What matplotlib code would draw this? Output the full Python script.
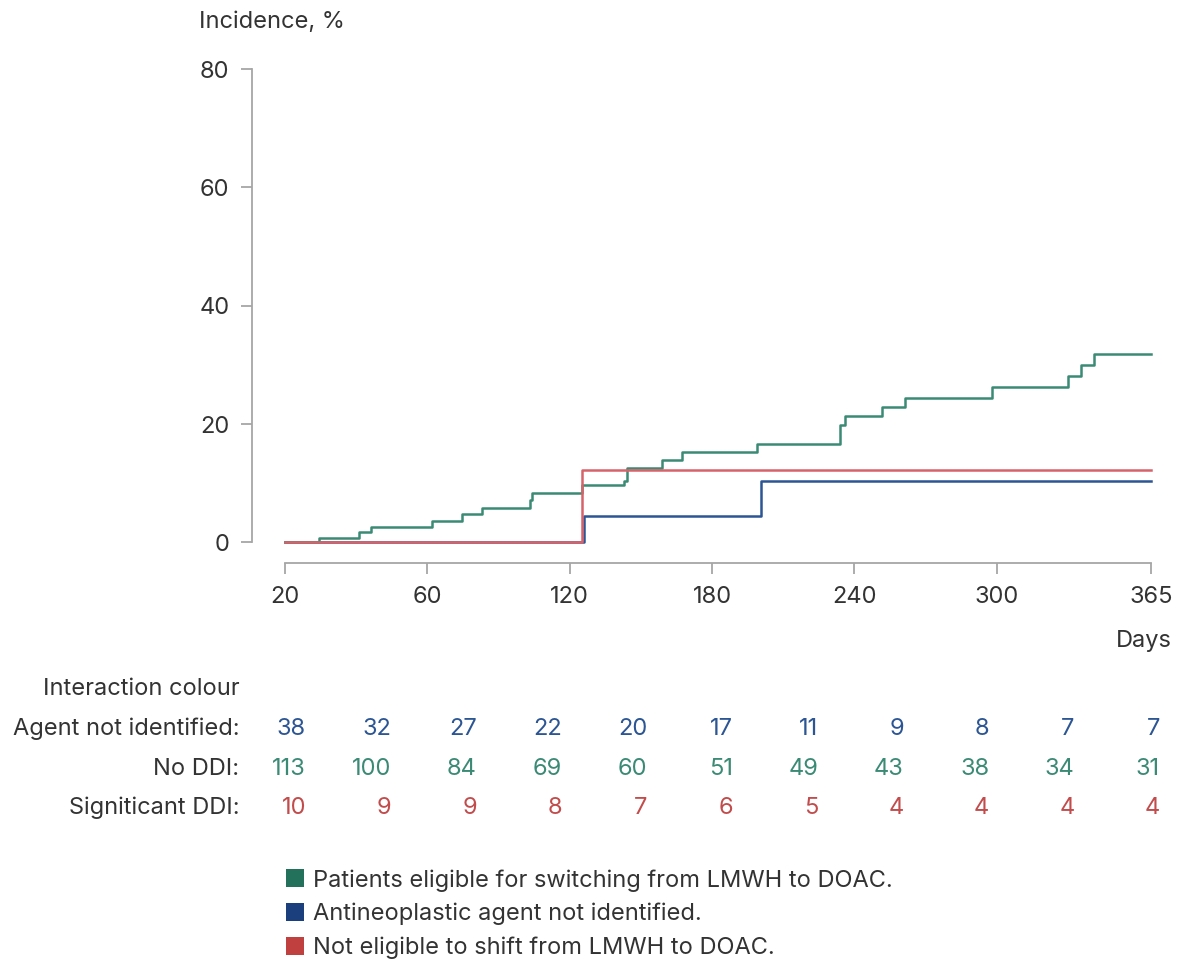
import numpy as np
import matplotlib

matplotlib.use("Agg")
import matplotlib.pyplot as plt
import matplotlib.transforms as mtransforms
from matplotlib.patches import Patch

plt.rcParams["font.family"] = ["Inter", "DejaVu Sans"]

# step curves (day, cumulative incidence %)
green_days = [0, 14.3, 31.2, 36.1, 62.0, 74.5, 83.0, 103.3, 104.2, 125.1, 143.0, 144.3,
              158.9, 167.2, 199.1, 233.9, 236.0, 251.7, 261.3, 298.1, 330.1, 335.4, 341.1, 365]
green_inc = [0, 0.73, 1.74, 2.59, 3.6, 4.84, 5.85, 7.15, 8.33, 9.74, 10.4, 12.6,
             13.9, 15.2, 16.7, 19.8, 21.4, 22.9, 24.4, 26.3, 28.2, 30.0, 31.8, 31.8]
blue_days = [0, 126.1, 200.6, 365]
blue_inc = [0, 4.45, 10.4, 10.4]
red_days = [0, 125.1, 365]
red_inc = [0, 12.2, 12.2]

tick_pos = [0, 60, 120, 180, 240, 300, 365]
tick_labels = ["20", "60", "120", "180", "240", "300", "365"]
y_ticks = [0, 20, 40, 60, 80]

# numbers at risk
risk_days = np.arange(0, 361, 36)
risk_agent = [38, 32, 27, 22, 20, 17, 11, 9, 8, 7, 7]
risk_nodi = [113, 100, 84, 69, 60, 51, 49, 43, 38, 34, 31]
risk_sig = [10, 9, 9, 8, 7, 6, 5, 4, 4, 4, 4]
row_labels = ["Agent not identified:", "No DDI:", "Signiticant DDI:"]

legend_labels = ["Patients eligible for switching from LMWH to DOAC.",
                 "Antineoplastic agent not identified.",
                 "Not eligible to shift from LMWH to DOAC."]

c_green, c_blue, c_red = "#3b8a74", "#2c5594", "#d7636a"
c_green_dk, c_blue_dk, c_red_dk = "#23705b", "#1a3f7c", "#c0403f"
c_text = "#333333"
c_axis = "#a6a6a6"
fs = 17

fig = plt.figure(figsize=(11.83, 9.59), dpi=100)
ax = fig.add_axes([0.2128, 0.4126, 0.7641, 0.5184])

ax.step(blue_days, blue_inc, where="post", color=c_blue, lw=1.8)
ax.step(green_days, green_inc, where="post", color=c_green, lw=1.8)
ax.step(red_days, red_inc, where="post", color=c_red, lw=1.8)

ax.set_xlim(-14, 367)
ax.set_ylim(-3.55, 80.5)
ax.set_xticks(tick_pos)
ax.set_xticklabels(tick_labels)
ax.set_yticks(y_ticks)

for s in ["top", "right"]:
    ax.spines[s].set_visible(False)
ax.spines["left"].set_bounds(0, 80)
ax.spines["bottom"].set_bounds(0, 365)
for s in ["left", "bottom"]:
    ax.spines[s].set_color(c_axis)
    ax.spines[s].set_linewidth(1.3)
ax.tick_params(axis="both", colors=c_axis, labelcolor=c_text, labelsize=fs,
               length=8, width=1.3, pad=8)

fig.text(199 / 1183, 1 - 22 / 959, "Incidence, %", fontsize=fs, color=c_text,
         ha="left", va="center")
fig.text(1171.5 / 1183, 1 - 641 / 959, "Days", fontsize=fs, color=c_text,
         ha="right", va="center")

# risk table
trans = mtransforms.blended_transform_factory(ax.transData, fig.transFigure)
trans = mtransforms.offset_copy(trans, fig=fig, x=21, y=0, units="dots")
label_x = 239.5 / 1183
fig.text(label_x, 1 - 689 / 959, "Interaction colour", fontsize=fs, color=c_text,
         ha="right", va="center")
rows = [(risk_agent, c_blue), (risk_nodi, c_green), (risk_sig, "#c24b4b")]
row_y = [729, 769, 808]
for (vals, col), lab, yy in zip(rows, row_labels, row_y):
    yf = 1 - yy / 959
    fig.text(label_x, yf, lab, fontsize=fs, color=c_text, ha="right", va="center")
    for d, v in zip(risk_days, vals):
        ax.text(d, yf, str(v), transform=trans, fontsize=fs, color=col,
                ha="right", va="center", clip_on=False)

handles = [Patch(facecolor=c, edgecolor="none") for c in (c_green_dk, c_blue_dk, c_red_dk)]
fig.legend(handles, legend_labels, loc="upper left", bbox_to_anchor=(0.2418, 1 - 869 / 959),
           frameon=False, fontsize=fs, handlelength=0.78, handleheight=0.78,
           handletextpad=0.35, labelspacing=0.48, borderaxespad=0, borderpad=0,
           labelcolor=c_text)

fig.savefig("out.png", dpi=100)
